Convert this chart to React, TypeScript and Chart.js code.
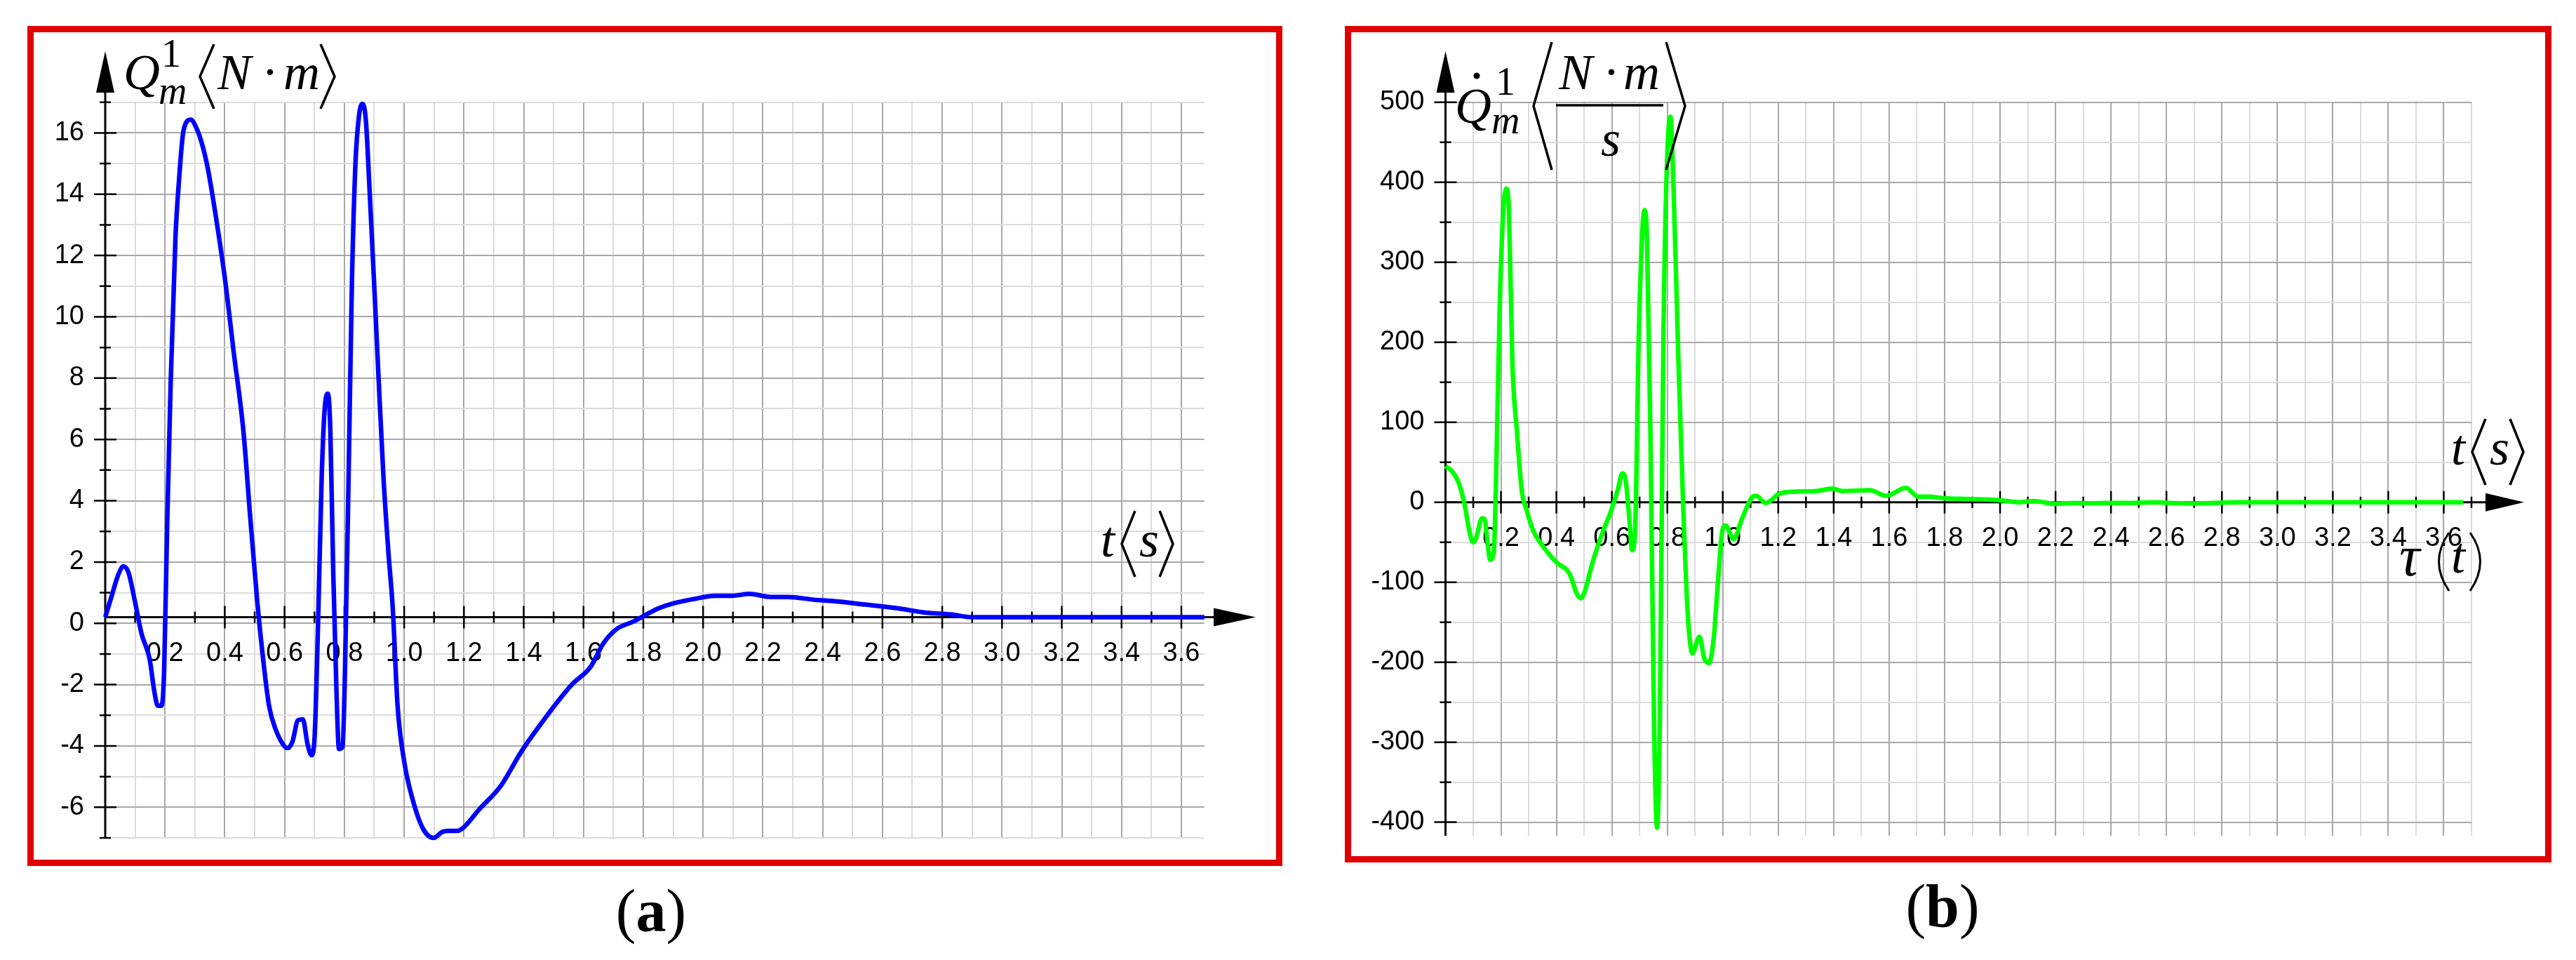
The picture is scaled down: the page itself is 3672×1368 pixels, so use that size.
import React, { useEffect, useRef } from "react";
import { Chart, registerables } from "chart.js";

Chart.register(...registerables);

// ---------- (a) Q_m^1 <N·m> versus t <s> ----------
const torqueTime = [
  0, 0.023, 0.043, 0.061, 0.078, 0.098, 0.121, 0.149, 0.164, 0.176,
  0.188, 0.197, 0.207, 0.219, 0.235, 0.246, 0.262, 0.286, 0.305, 0.325,
  0.344, 0.368, 0.399, 0.43, 0.462, 0.485, 0.508, 0.524, 0.548, 0.571,
  0.595, 0.609, 0.626, 0.645, 0.661, 0.677, 0.69, 0.7, 0.712, 0.724,
  0.735, 0.745, 0.753, 0.763, 0.774, 0.782, 0.794, 0.802, 0.814, 0.825,
  0.837, 0.849, 0.861, 0.872, 0.884, 0.9, 0.915, 0.931, 0.947, 0.962,
  0.978, 1.0, 1.027, 1.063, 1.099, 1.128, 1.15, 1.178, 1.2, 1.25,
  1.322, 1.393, 1.465, 1.537, 1.565, 1.623, 1.666, 1.709, 1.767, 1.803,
  1.853, 1.896, 1.968, 2.04, 2.097, 2.155, 2.227, 2.285, 2.371, 2.429,
  2.544, 2.658, 2.744, 2.83, 2.9, 3.2, 3.677,
];
const torqueValue = [
  0, 0.74, 1.37, 1.66, 1.45, 0.58, -0.52, -1.39, -2.41, -2.89,
  -2.89, -1.78, 2.95, 7.68, 12.4, 14.15, 15.88, 16.23, 15.96, 15.4,
  14.6, 13.2, 11.15, 8.63, 6.1, 3.27, 0.58, -0.99, -2.89, -3.68,
  -4.15, -4.27, -4.07, -3.36, -3.33, -4.15, -4.5, -3.99, -0.2, 4.53,
  6.9, 7.29, 6.1, 1.37, -2.57, -4.3, -4.23, -1.78, 4.53, 10.8,
  14.78, 16.36, 16.75, 16.2, 14.0, 10.8, 7.68, 4.53, 2.16, 0.27,
  -2.89, -4.7, -5.9, -6.9, -7.2, -7.0, -6.97, -6.97, -6.85, -6.28,
  -5.52, -4.37, -3.38, -2.47, -2.16, -1.63, -0.86, -0.4, -0.14, 0.05,
  0.3, 0.44, 0.59, 0.7, 0.7, 0.76, 0.66, 0.66, 0.57, 0.53,
  0.41, 0.28, 0.15, 0.09, 0, 0, 0,
];

// ---------- (b) dQ_m^1/dt <N·m/s> versus t <s> ----------
const rateTime = [
  0, 0.023, 0.048, 0.069, 0.086, 0.099, 0.11, 0.132, 0.141, 0.153,
  0.161, 0.174, 0.186, 0.195, 0.208, 0.22, 0.229, 0.241, 0.258, 0.275,
  0.292, 0.317, 0.343, 0.376, 0.41, 0.436, 0.452, 0.473, 0.488, 0.503,
  0.528, 0.562, 0.596, 0.621, 0.638, 0.65, 0.663, 0.673, 0.684, 0.697,
  0.71, 0.718, 0.727, 0.739, 0.752, 0.763, 0.773, 0.786, 0.798, 0.811,
  0.823, 0.84, 0.857, 0.874, 0.891, 0.904, 0.916, 0.933, 0.95, 0.967,
  0.984, 0.997, 1.01, 1.039, 1.07, 1.105, 1.12, 1.155, 1.206, 1.25,
  1.338, 1.396, 1.43, 1.53, 1.59, 1.66, 1.705, 1.74, 1.8, 1.88,
  1.995, 2.07, 2.12, 2.2, 2.27, 2.33, 2.38, 2.46, 2.56, 2.61,
  2.69, 2.77, 2.85, 3.2, 3.67,
];
const rateValue = [
  45, 39, 24, -3, -36, -50, -45, -20, -21, -54,
  -72, -63, 87, 236, 362, 392, 362, 177, 87, 15,
  -9, -36, -51, -66, -78, -84, -93, -114, -120, -111,
  -78, -42, -12, 15, 36, 27, -21, -60, -33, 207,
  338, 365, 326, 87, -272, -407, -272, 207, 416, 482,
  386, 177, -3, -141, -189, -177, -168, -195, -201, -171,
  -93, -39, -29, -46, -20, 6, 8, -1, 11, 13,
  14, 17, 14, 15, 8, 18, 7, 7, 5, 4,
  2.6, 0, 1.5, -2, -1, -1.5, -1, -1, 0, -1,
  -1.7, -1, 0, 0, 0,
];

// axis ranges and steps
const torqueX = { min: 0, max: 3.677, step: 0.1, labelEvery: 2 };
const torqueY = { min: -7.2, max: 16.8, step: 1, labelEvery: 2 };
const rateX = { min: 0, max: 3.7, step: 0.1, labelEvery: 2 };
const rateY = { min: -417, max: 500, step: 50, labelEvery: 2 };

const MAJOR = "#a8a8a8";
const MINOR = "#dcdcdc";
const TICK_FONT = { family: '"Liberation Sans", Arial, sans-serif', size: 38 };
const SERIF = '"Liberation Serif", "Times New Roman", serif';

function isMajor(v: number, step: number, every: number) {
  return Math.round(v / step) % every === 0;
}

function scaleOpts(ax: any, isX: boolean, fixed: number, fmt: (v: number) => string) {
  return {
    type: "linear",
    min: ax.min,
    max: ax.max,
    position: isX ? { y: 0 } : "left",
    border: { display: false },
    grid: {
      drawTicks: false,
      lineWidth: 2,
      color: (c: any) => (c.tick && isMajor(c.tick.value, ax.step, ax.labelEvery) ? MAJOR : MINOR),
    },
    ticks: {
      stepSize: ax.step,
      includeBounds: false,
      autoSkip: false,
      maxTicksLimit: 1000,
      maxRotation: 0,
      minRotation: 0,
      padding: isX ? 29 : 30,
      color: "#000",
      font: TICK_FONT,
      callback: (value: any) => {
        const v = Number(value);
        const k = Math.round(v / ax.step);
        if (k % ax.labelEvery !== 0) return "";
        if (isX && k === 0) return "";
        return fmt(v);
      },
    },
    afterFit: (s: any) => {
      if (isX) s.height = 0;
      else s.width = fixed;
    },
  };
}

function drawAxes(chart: any, d: any, xa: any, ya: any) {
  const ctx = chart.ctx;
  const xs = chart.scales.x;
  const ys = chart.scales.y;
  const x0 = xs.getPixelForValue(0);
  const y0 = ys.getPixelForValue(0);
  const area = chart.chartArea;
  ctx.save();
  ctx.strokeStyle = "#000";
  ctx.fillStyle = "#000";
  ctx.lineWidth = 3;
  ctx.beginPath();
  ctx.moveTo(x0, y0);
  ctx.lineTo(d.xArrowBase, y0);
  ctx.moveTo(x0, area.bottom);
  ctx.lineTo(x0, d.yArrowBase);
  ctx.stroke();
  ctx.beginPath();
  ctx.moveTo(d.xArrowBase, y0 - 13);
  ctx.lineTo(d.xArrowTip, y0);
  ctx.lineTo(d.xArrowBase, y0 + 13);
  ctx.closePath();
  ctx.fill();
  ctx.beginPath();
  ctx.moveTo(x0 - 13, d.yArrowBase);
  ctx.lineTo(x0, d.yArrowTip);
  ctx.lineTo(x0 + 13, d.yArrowBase);
  ctx.closePath();
  ctx.fill();
  ctx.lineWidth = 2.5;
  ctx.beginPath();
  for (const t of xs.ticks) {
    if (t.value <= 0) continue;
    const p = xs.getPixelForValue(t.value);
    const h = isMajor(t.value, xa.step, xa.labelEvery) ? 16 : 8;
    ctx.moveTo(p, y0 - h);
    ctx.lineTo(p, y0 + h);
  }
  for (const t of ys.ticks) {
    const p = ys.getPixelForValue(t.value);
    const h = isMajor(t.value, ya.step, ya.labelEvery) ? 16 : 8;
    ctx.moveTo(x0 - h, p);
    ctx.lineTo(x0 + h, p);
  }
  ctx.stroke();
  ctx.restore();
}

function txt(ctx: any, s: string, x: number, y: number, font: string, align = "left") {
  ctx.font = font;
  ctx.textAlign = align;
  ctx.textBaseline = "alphabetic";
  ctx.fillText(s, x, y);
}

function angle(ctx: any, xTip: number, xEnd: number, yTop: number, yBot: number) {
  ctx.beginPath();
  ctx.moveTo(xEnd, yTop);
  ctx.lineTo(xTip, (yTop + yBot) / 2);
  ctx.lineTo(xEnd, yBot);
  ctx.stroke();
}

function tUnit(ctx: any, x: number, base: number) {
  const I72 = `italic 72px ${SERIF}`;
  txt(ctx, "t", x, base, I72);
  angle(ctx, x + 30, x + 49, base - 65, base + 29);
  txt(ctx, "s", x + 55, base, I72);
  angle(ctx, x + 103, x + 84, base - 65, base + 29);
}

function caption(ctx: any, letter: string, cx: number, base: number) {
  const reg = `86px ${SERIF}`;
  const bold = `bold 86px ${SERIF}`;
  ctx.font = reg;
  const wp = ctx.measureText("(").width;
  const wp2 = ctx.measureText(")").width;
  ctx.font = bold;
  const wl = ctx.measureText(letter).width;
  const start = cx - (wp + wl + wp2) / 2;
  txt(ctx, "(", start, base, reg);
  txt(ctx, letter, start + wp, base, bold);
  txt(ctx, ")", start + wp + wl, base, reg);
}

const decorA = {
  id: "decorA",
  beforeDatasetsDraw(chart: any) {
    drawAxes(chart, { xArrowBase: 1730, xArrowTip: 1790, yArrowBase: 132, yArrowTip: 73 }, torqueX, torqueY);
  },
  afterDraw(chart: any) {
    const ctx = chart.ctx;
    ctx.save();
    ctx.fillStyle = "#000";
    ctx.strokeStyle = "#000";
    ctx.lineWidth = 3.5;
    const I72 = `italic 72px ${SERIF}`;
    txt(ctx, "Q", 176, 127, I72);
    txt(ctx, "1", 230, 95, `56px ${SERIF}`);
    txt(ctx, "m", 226, 148, `italic 56px ${SERIF}`);
    angle(ctx, 285, 305, 63, 155);
    txt(ctx, "N", 310, 127, I72);
    txt(ctx, "·", 385, 127, `72px ${SERIF}`, "center");
    txt(ctx, "m", 404, 127, I72);
    angle(ctx, 477, 457, 63, 155);
    tUnit(ctx, 1569, 793);
    caption(ctx, "a", 928, 1327);
    ctx.strokeStyle = "#e00000";
    ctx.lineWidth = 9;
    ctx.strokeRect(43.5, 41.5, 1780, 1188);
    ctx.restore();
  },
};

const OFF = 1870;
const decorB = {
  id: "decorB",
  beforeDatasetsDraw(chart: any) {
    drawAxes(chart, { xArrowBase: 3543 - OFF, xArrowTip: 3598 - OFF, yArrowBase: 132, yArrowTip: 73 }, rateX, rateY);
  },
  afterDraw(chart: any) {
    const ctx = chart.ctx;
    ctx.save();
    ctx.fillStyle = "#000";
    ctx.strokeStyle = "#000";
    ctx.lineWidth = 3.5;
    const I72 = `italic 72px ${SERIF}`;
    ctx.beginPath();
    ctx.arc(2105 - OFF, 108, 4.5, 0, Math.PI * 2);
    ctx.fill();
    txt(ctx, "1", 2132 - OFF, 135, `56px ${SERIF}`);
    txt(ctx, "Q", 2074 - OFF, 175, I72);
    txt(ctx, "m", 2126 - OFF, 190, `italic 56px ${SERIF}`);
    angle(ctx, 2186 - OFF, 2212 - OFF, 60, 242);
    txt(ctx, "N", 2222 - OFF, 127, I72);
    txt(ctx, "·", 2297 - OFF, 127, `72px ${SERIF}`, "center");
    txt(ctx, "m", 2314 - OFF, 127, I72);
    ctx.beginPath();
    ctx.moveTo(2218 - OFF, 150);
    ctx.lineTo(2371 - OFF, 150);
    ctx.stroke();
    txt(ctx, "s", 2282 - OFF, 222, I72);
    angle(ctx, 2402 - OFF, 2375 - OFF, 60, 242);
    tUnit(ctx, 3494 - OFF, 662);
    // tau(t)
    txt(ctx, "τ", 3420 - OFF, 820, `italic 82px ${SERIF}`);
    ctx.lineWidth = 3;
    ctx.beginPath();
    ctx.moveTo(3491 - OFF, 759);
    ctx.quadraticCurveTo(3462 - OFF, 800, 3491 - OFF, 842);
    ctx.stroke();
    txt(ctx, "t", 3494 - OFF, 816, I72);
    ctx.beginPath();
    ctx.moveTo(3521 - OFF, 759);
    ctx.quadraticCurveTo(3550 - OFF, 800, 3521 - OFF, 842);
    ctx.stroke();
    caption(ctx, "b", 2769 - OFF, 1320);
    ctx.strokeStyle = "#e00000";
    ctx.lineWidth = 9;
    ctx.strokeRect(1921.5 - OFF, 41.5, 1711, 1183);
    ctx.restore();
  },
};

function makeConfig(
  times: number[],
  values: number[],
  color: string,
  xa: any,
  ya: any,
  yWidth: number,
  pad: any,
  fmtY: (v: number) => string,
  plugin: any
) {
  return {
    type: "line",
    data: {
      datasets: [
        {
          data: times.map((t, i) => ({ x: t, y: values[i] })),
          borderColor: color,
          borderWidth: 6.5,
          pointRadius: 0,
          fill: false,
          cubicInterpolationMode: "monotone",
          clip: false,
        },
      ],
    },
    options: {
      animation: false,
      responsive: false,
      devicePixelRatio: 1,
      layout: { padding: pad },
      plugins: { legend: { display: false }, tooltip: { enabled: false }, title: { display: false } },
      scales: {
        x: scaleOpts(xa, true, 0, (v) => v.toFixed(1)),
        y: scaleOpts(ya, false, yWidth, fmtY),
      },
    },
    plugins: [plugin],
  };
}

export default function App() {
  const refA = useRef<HTMLCanvasElement>(null);
  const refB = useRef<HTMLCanvasElement>(null);

  useEffect(() => {
    document.body.style.margin = "0";
    document.body.style.background = "#fff";
    const a = new Chart(
      refA.current as HTMLCanvasElement,
      makeConfig(
        torqueTime,
        torqueValue,
        "#0000ff",
        torqueX,
        torqueY,
        150,
        { left: 0, top: 145.7, right: 1870 - 1716.8, bottom: 1368 - 1194 },
        (v) => String(Math.round(v)),
        decorA
      ) as any
    );
    const b = new Chart(
      refB.current as HTMLCanvasElement,
      makeConfig(
        rateTime,
        rateValue,
        "#00ff00",
        rateX,
        rateY,
        190.5,
        { left: 0, top: 145.7, right: 1802 - 1653, bottom: 1368 - 1191 },
        (v) => String(Math.round(v)),
        decorB
      ) as any
    );
    return () => {
      a.destroy();
      b.destroy();
    };
  }, []);

  return (
    <div style={{ position: "absolute", left: 0, top: 0, width: 3672, height: 1368, background: "#fff", overflow: "hidden" }}>
      <canvas ref={refA} width={1870} height={1368} style={{ position: "absolute", left: 0, top: 0, width: 1870, height: 1368 }} />
      <canvas ref={refB} width={1802} height={1368} style={{ position: "absolute", left: 1870, top: 0, width: 1802, height: 1368 }} />
    </div>
  );
}
